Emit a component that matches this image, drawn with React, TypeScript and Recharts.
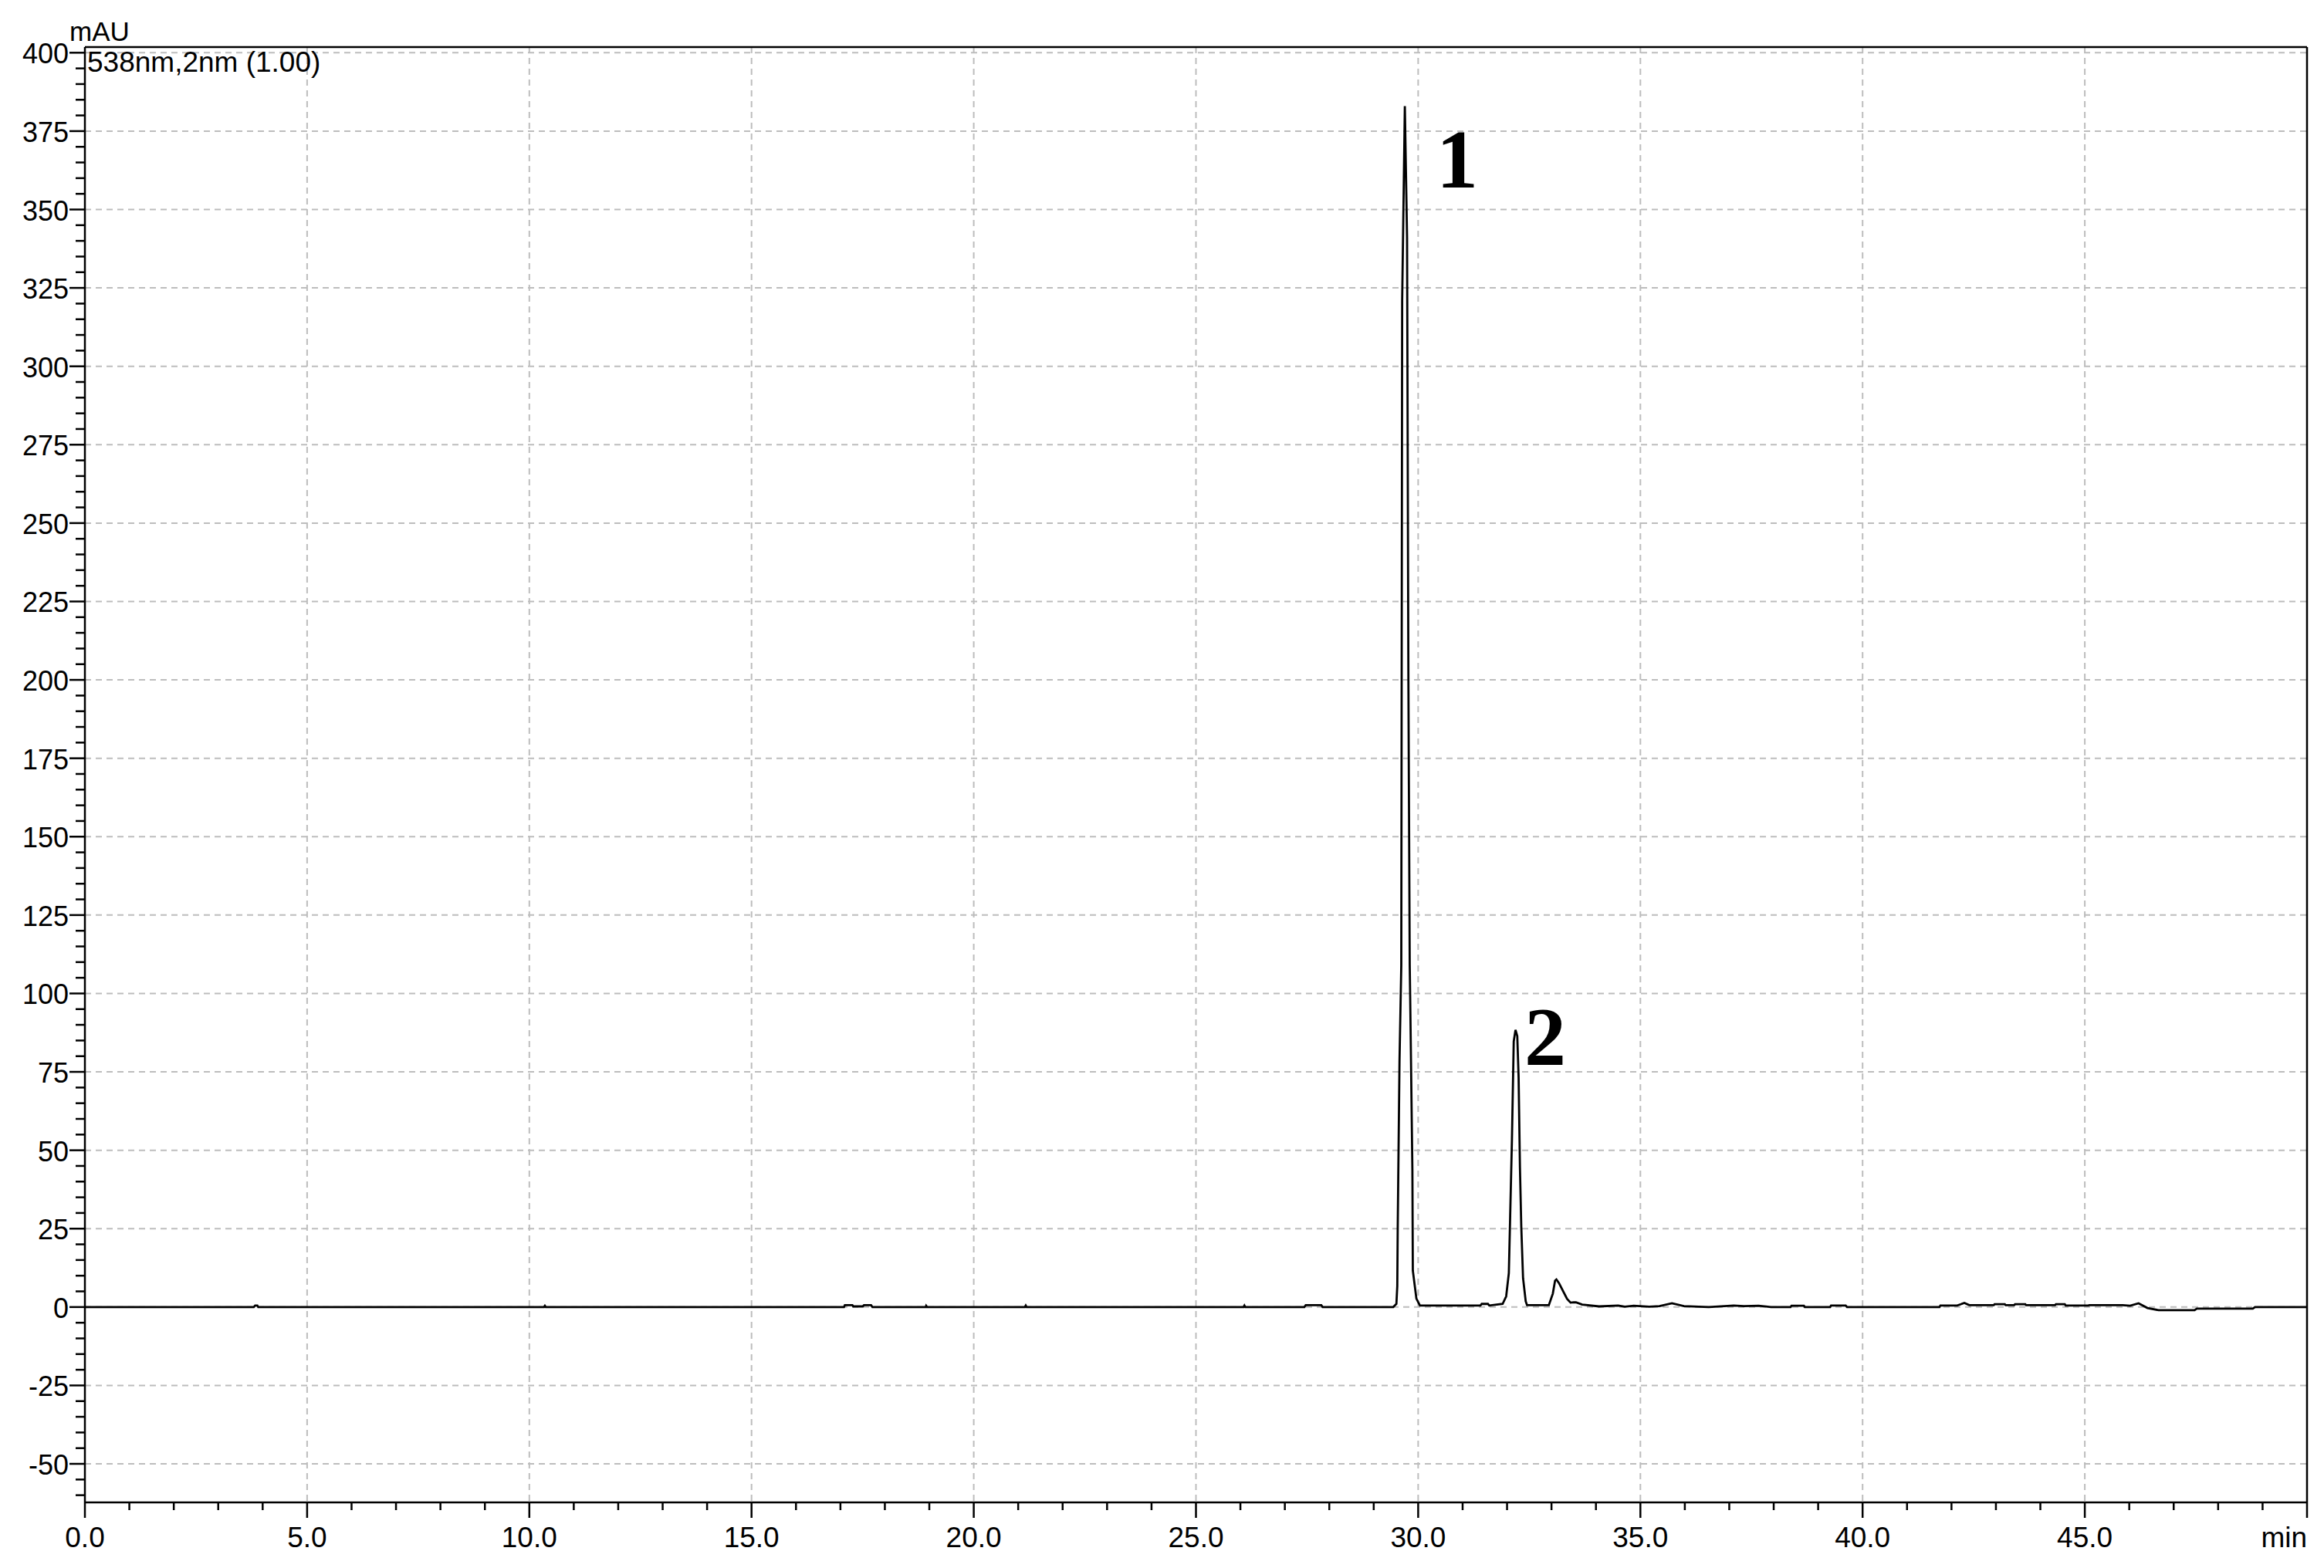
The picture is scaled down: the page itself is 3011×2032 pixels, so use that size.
import React from 'react';
import { LineChart, Line, XAxis, YAxis, CartesianGrid, ReferenceLine, ReferenceDot } from 'recharts';

// retention time (min) and absorbance (mAU)
const times = [
  0, 3.80, 3.83, 3.88, 3.90, 10.33, 10.35, 10.37,
  17.08, 17.10, 17.27, 17.29, 17.50, 17.53, 17.69, 17.72,
  18.92, 18.93, 18.95, 21.15, 21.17, 21.19, 26.07, 26.09, 26.11,
  27.44, 27.47, 27.82, 27.85,
  29.44, 29.51, 29.53, 29.54, 29.58, 29.62, 29.64, 29.70, 29.75, 29.78, 29.81, 29.82, 29.87, 29.88, 29.96, 30.04,
  31.40, 31.43, 31.57, 31.60,
  31.90, 31.98, 32.04, 32.07, 32.11, 32.15, 32.19, 32.23, 32.26, 32.29, 32.32, 32.36, 32.42, 32.45,
  32.94, 33.03, 33.08, 33.11, 33.17, 33.26, 33.35, 33.43, 33.50, 33.55, 33.69,
  34.07, 34.50, 34.65, 34.85, 35.20, 35.43, 35.71, 35.98, 36.54,
  37.10, 37.33, 37.66, 37.94, 38.38, 38.40, 38.68, 38.70, 39.27, 39.29, 39.62, 39.65,
  41.73, 41.75, 42.13, 42.29, 42.40, 42.95, 42.97, 43.20, 43.22, 43.41, 43.43, 43.66, 43.68,
  44.33, 44.35, 44.55, 44.57, 45.08, 45.10, 45.85, 46.02, 46.21, 46.41, 46.66, 47.47, 47.52,
  48.78, 48.83, 50,
];
const absorbance = [
  0, 0, 0.5, 0.5, 0, 0, 0.4, 0,
  0, 0.6, 0.6, 0.2, 0.2, 0.6, 0.6, 0,
  0, 0.4, 0, 0, 0.5, 0, 0, 0.5, 0,
  0, 0.6, 0.6, 0,
  0, 1, 6.7, 25.6, 78.5, 109, 321, 383, 341, 200, 109, 99, 43.6, 11.6, 2.7, 0.5,
  0.5, 1.0, 1.0, 0.5,
  1, 3.4, 10.8, 28.9, 53.5, 84.7, 88.4, 86.4, 73.2, 44.5, 25.6, 9.2, 1.8, 0.6,
  0.6, 4.3, 8.4, 8.8, 7.6, 5.1, 2.6, 1.4, 1.5, 1.5, 0.8,
  0.2, 0.5, 0.1, 0.4, 0.1, 0.3, 1.2, 0.3, 0,
  0.5, 0.3, 0.4, 0, 0, 0.4, 0.4, 0, 0, 0.5, 0.5, 0,
  0, 0.5, 0.5, 1.3, 0.6, 0.6, 0.9, 0.9, 0.6, 0.6, 0.9, 0.9, 0.6,
  0.6, 0.9, 0.9, 0.5, 0.5, 0.6, 0.6, 0.4, 1.2, -0.3, -1.0, -1.0, -0.5,
  -0.5, 0, 0,
];

const xMajor = [0, 5, 10, 15, 20, 25, 30, 35, 40, 45, 50];
const xLabels = ['0.0', '5.0', '10.0', '15.0', '20.0', '25.0', '30.0', '35.0', '40.0', '45.0', 'min'];
const yMajor = [-50, -25, 0, 25, 50, 75, 100, 125, 150, 175, 200, 225, 250, 275, 300, 325, 350, 375, 400];

const peakNames = ['1', '2'];
const peakLabelT = [30.41, 32.39];
const peakLabelV = [357, 77.3];

const Y_MIN = -62.3;
const Y_MAX = 401.8;

const data = times.map((t, i) => ({ t, v: absorbance[i] }));
const xTicks: number[] = [];
for (let m = 0; m <= 50; m++) xTicks.push(m);
const yTicks: number[] = [];
for (let v = -60; v <= 400; v += 5) yTicks.push(v);

const font = "'Liberation Sans', Arial, sans-serif";

const XTick = ({ x, y, payload }: any) => {
  const idx = xMajor.indexOf(payload.value);
  const major = idx >= 0;
  const last = idx === xMajor.length - 1;
  return (
    <g>
      <line x1={x} x2={x} y1={y} y2={y + (major ? 20 : 10)} stroke="#000" strokeWidth={2.5} />
      {major && (
        <text x={x} y={y + 58} textAnchor={last ? 'end' : 'middle'} fontFamily={font} fontSize={37} fill="#000">
          {xLabels[idx]}
        </text>
      )}
    </g>
  );
};

const YTick = ({ x, y, payload }: any) => {
  const major = yMajor.includes(payload.value);
  return (
    <g>
      <line x1={x - (major ? 20 : 12)} x2={x} y1={y} y2={y} stroke="#000" strokeWidth={2.5} />
      {major && (
        <text x={x - 21} y={y + 14} textAnchor="end" fontFamily={font} fontSize={36} fill="#000">
          {payload.value}
        </text>
      )}
    </g>
  );
};

export default function App() {
  return (
    <div style={{ position: 'absolute', left: 0, top: 0, width: 3011, height: 2032, background: '#fff' }}>
      <LineChart width={3011} height={2032} data={data} margin={{ top: 61, right: 22, bottom: 0, left: 0 }}>
        <CartesianGrid
          stroke="#bdbdbd"
          strokeWidth={2}
          strokeDasharray="8 6"
          horizontalValues={yMajor}
          verticalValues={xMajor.slice(1, -1)}
        />
        <XAxis
          dataKey="t"
          type="number"
          domain={[0, 50]}
          ticks={xTicks}
          interval={0}
          height={85}
          tickSize={0}
          tickMargin={0}
          tickLine={false}
          axisLine={{ stroke: '#000', strokeWidth: 2.5 }}
          tick={<XTick />}
          allowDataOverflow
        />
        <YAxis
          type="number"
          domain={[Y_MIN, Y_MAX]}
          ticks={yTicks}
          interval={0}
          width={110}
          tickSize={0}
          tickMargin={0}
          tickLine={false}
          axisLine={{ stroke: '#000', strokeWidth: 2.5 }}
          tick={<YTick />}
          allowDataOverflow
        />
        <ReferenceLine y={Y_MAX} stroke="#000" strokeWidth={2.5} />
        <ReferenceLine x={50} stroke="#000" strokeWidth={2.5} />
        <Line
          dataKey="v"
          type="linear"
          dot={false}
          stroke="#000"
          strokeWidth={2.8}
          isAnimationActive={false}
        />
        {peakNames.map((name, i) => (
          <ReferenceDot
            key={name}
            x={peakLabelT[i]}
            y={peakLabelV[i]}
            r={0}
            fill="none"
            stroke="none"
            label={{
              content: (p: any) => (
                <text
                  x={p.viewBox.x}
                  y={p.viewBox.y}
                  fontFamily="'Liberation Serif', 'Times New Roman', serif"
                  fontWeight="bold"
                  fontSize={108}
                  fill="#000"
                >
                  {name}
                </text>
              ),
            }}
          />
        ))}
      </LineChart>
      <svg width={3011} height={2032} style={{ position: 'absolute', left: 0, top: 0, pointerEvents: 'none' }}>
        <text x={90} y={53} fontFamily={font} fontSize={35} fill="#000">mAU</text>
        <text x={113} y={93} fontFamily={font} fontSize={37} fill="#000">538nm,2nm (1.00)</text>
      </svg>
    </div>
  );
}
